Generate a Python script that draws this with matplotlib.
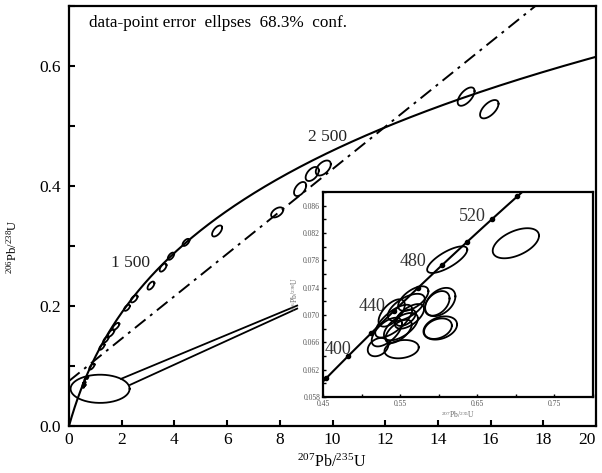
import numpy as np
import matplotlib
matplotlib.use("Agg")
import matplotlib.pyplot as plt
from matplotlib.ticker import MultipleLocator, FixedLocator

plt.rcParams['font.family'] = ['Liberation Serif', 'DejaVu Serif']
plt.rcParams['mathtext.fontset'] = 'custom'
plt.rcParams['mathtext.rm'] = 'Liberation Serif'
plt.rcParams['mathtext.it'] = 'Liberation Serif:italic'

# decay constants (per year)
LAMBDA_238 = 1.55125e-10
LAMBDA_235 = 9.8485e-10

# ---------------- data ----------------
# main-panel error ellipses: centre, half-extent in x and y, correlation
main_x = [15.07, 15.95, 9.65, 9.23, 8.77, 7.90, 5.62, 4.44, 3.87, 3.57, 3.11, 2.47, 2.20, 1.78, 1.60, 1.40, 1.25, 0.87]
main_y = [0.549, 0.528, 0.430, 0.420, 0.395, 0.356, 0.325, 0.306, 0.283, 0.264, 0.234, 0.212, 0.197, 0.166, 0.155, 0.144, 0.132, 0.099]
main_sx = [0.32, 0.35, 0.285, 0.25, 0.23, 0.23, 0.19, 0.13, 0.12, 0.13, 0.13, 0.13, 0.11, 0.13, 0.12, 0.10, 0.10, 0.10]
main_sy = [0.0153, 0.0153, 0.0125, 0.0117, 0.0117, 0.0084, 0.0092, 0.0059, 0.0060, 0.0067, 0.0067, 0.0060, 0.0050, 0.0060, 0.0060, 0.0050, 0.0050, 0.0050]
main_rho = [0.6, 0.6, 0.5, 0.5, 0.5, 0.5, 0.6, 0.6, 0.6, 0.6, 0.6, 0.6, 0.6, 0.7, 0.7, 0.7, 0.7, 0.7]

# inset error ellipses
inset_x = [0.611, 0.700, 0.5214, 0.5519, 0.602, 0.598, 0.602, 0.599, 0.567, 0.558, 0.5417, 0.5327, 0.551, 0.562, 0.539, 0.548, 0.557]
inset_y = [0.0781, 0.0805, 0.0653, 0.0650, 0.0719, 0.0717, 0.0681, 0.0680, 0.0724, 0.0711, 0.0691, 0.0675, 0.0683, 0.0698, 0.0703, 0.0676, 0.0696]
inset_sx = [0.026, 0.030, 0.0134, 0.0222, 0.0196, 0.016, 0.0218, 0.018, 0.0196, 0.024, 0.024, 0.0196, 0.022, 0.019, 0.017, 0.017, 0.013]
inset_sy = [0.00195, 0.0022, 0.00134, 0.00134, 0.00207, 0.0018, 0.0017, 0.0015, 0.0018, 0.0020, 0.0024, 0.0021, 0.0020, 0.0018, 0.0020, 0.0017, 0.0012]
inset_rho = [0.75, 0.5, 0.3, 0.2, 0.4, 0.4, 0.3, 0.3, 0.6, 0.6, 0.7, 0.6, 0.6, 0.6, 0.6, 0.6, 0.5]

# discordia (dash-dot) end points
discordia_x = [0.0, 17.7]
discordia_y = [0.075, 0.700]

# magnifier ellipse and its pointer lines
mag_cx, mag_cy, mag_sx, mag_sy = 1.18, 0.062, 1.12, 0.0235
pointer_upper_x = [1.975, 8.66]
pointer_upper_y = [0.0786, 0.2007]
pointer_lower_x = [2.32, 8.66]
pointer_lower_y = [0.0686, 0.1957]

# age labels
main_age_labels = ["1 500", "2 500"]
main_age_label_x = [2.35, 9.8]
main_age_label_y = [0.272, 0.481]
inset_marker_ages = [380, 400, 420, 440, 460, 480, 500, 520, 540]   # Ma
inset_age_labels = ["400", "440", "480", "520"]
inset_age_label_x = [0.469, 0.513, 0.567, 0.644]
inset_age_label_y = [0.0649, 0.0712, 0.0778, 0.0844]

main_xticks = [0, 2, 4, 6, 8, 10, 12, 14, 16, 18, 20]
main_yticks = [0.0, 0.2, 0.4, 0.6]
inset_xticks = [0.45, 0.55, 0.65, 0.75]
inset_yticks = [0.058, 0.062, 0.066, 0.070, 0.074, 0.078, 0.082, 0.086]


def concordia(age_ma):
    t = np.asarray(age_ma, dtype=float) * 1e6
    return np.exp(LAMBDA_235 * t) - 1, np.exp(LAMBDA_238 * t) - 1


def ellipse_xy(cx, cy, sx, sy, rho, n=120):
    th = np.linspace(0, 2 * np.pi, n)
    x = cx + sx * np.cos(th)
    y = cy + sy * (rho * np.cos(th) + np.sqrt(1 - rho ** 2) * np.sin(th))
    return x, y


fig = plt.figure(figsize=(6.02, 4.73), dpi=100)
ax = fig.add_axes([69 / 602, 47 / 473, 527 / 602, 420 / 473])

LW = 1.5
# concordia
cx, cy = concordia(np.linspace(0, 3300, 600))
ax.plot(cx, cy, color='black', lw=LW, zorder=3)
# discordia
ax.plot(discordia_x, discordia_y, color='black', lw=1.4,
        dashes=(7, 3, 1.5, 3), zorder=3)

for x, y, sx, sy, r in zip(main_x, main_y, main_sx, main_sy, main_rho):
    ex, ey = ellipse_xy(x, y, sx, sy, r)
    ax.plot(ex, ey, color='black', lw=1.3, zorder=4)
for x, y, sx, sy, r in zip(inset_x, inset_y, inset_sx, inset_sy, inset_rho):
    ex, ey = ellipse_xy(x, y, sx, sy, r)
    ax.plot(ex, ey, color='black', lw=1.3, zorder=4)

# magnifier
ex, ey = ellipse_xy(mag_cx, mag_cy, mag_sx, mag_sy, 0.0, 200)
ax.plot(ex, ey, color='black', lw=1.3, zorder=4)
ax.plot(pointer_upper_x, pointer_upper_y, color='black', lw=1.3, zorder=4)
ax.plot(pointer_lower_x, pointer_lower_y, color='black', lw=1.3, zorder=4)

for s, x, y in zip(main_age_labels, main_age_label_x, main_age_label_y):
    ax.text(x, y, s, fontsize=12.5, ha='center', va='center', color='#222222')

ax.text(0.038, 0.96, "data-point error  ellpses  68.3%  conf.", transform=ax.transAxes,
        fontsize=12.3, ha='left', va='center')

ax.set_xlim(0, 20)
ax.set_ylim(0, 0.7)
ax.xaxis.set_major_locator(FixedLocator(main_xticks))
ax.yaxis.set_major_locator(FixedLocator(main_yticks))
ax.yaxis.set_minor_locator(MultipleLocator(0.1))
ax.set_xticklabels([str(v) for v in main_xticks])
ax.set_yticklabels([f"{v:.1f}" for v in main_yticks])
ax.get_xticklabels()[-1].set_horizontalalignment('right')
ax.tick_params(which='both', direction='in', length=4, width=1.5, labelsize=12.5)
ax.tick_params(axis='x', pad=4)
ax.tick_params(axis='y', pad=6)
for sp in ax.spines.values():
    sp.set_linewidth(1.6)

ax.set_xlabel(r"$^{207}$Pb/$^{235}$U", fontsize=11.5)
ax.set_ylabel(r"$^{206}$Pb/$^{238}$U", fontsize=9)
ax.xaxis.set_label_coords(0.499, -0.066)
ax.yaxis.set_label_coords(-0.093, 0.426)

# ---------------- inset ----------------
ins = fig.add_axes([323 / 602, 76 / 473, 270 / 602, 205 / 473])
ix, iy = concordia(np.linspace(350, 570, 300))
ins.plot(ix, iy, color='black', lw=1.5, zorder=3)
mx, my = concordia(inset_marker_ages)
ins.plot(mx, my, 'o', color='black', ms=3, zorder=4)
for x, y, sx, sy, r in zip(inset_x, inset_y, inset_sx, inset_sy, inset_rho):
    ex, ey = ellipse_xy(x, y, sx, sy, r)
    ins.plot(ex, ey, color='black', lw=1.3, zorder=4)
for s, x, y in zip(inset_age_labels, inset_age_label_x, inset_age_label_y):
    ins.text(x, y, s, fontsize=13, ha='center', va='center', color='#333333')

ins.set_xlim(0.45, 0.80)
ins.set_ylim(0.058, 0.088)
ins.xaxis.set_major_locator(FixedLocator(inset_xticks))
ins.xaxis.set_minor_locator(MultipleLocator(0.05))
ins.yaxis.set_major_locator(FixedLocator(inset_yticks))
ins.yaxis.set_minor_locator(MultipleLocator(0.002))
ins.set_xticklabels([f"{v:.2f}" for v in inset_xticks])
ins.set_yticklabels([f"{v:.3f}" for v in inset_yticks])
ins.tick_params(which='both', direction='in', length=2.5, width=1.0, labelsize=5.5,
                labelcolor='#555555', pad=2)
for sp in ins.spines.values():
    sp.set_linewidth(1.6)
ins.set_xlabel(r"$^{207}$Pb/$^{235}$U", fontsize=5.5, color='#666666', labelpad=1)
ins.set_ylabel(r"$^{206}$Pb/$^{238}$U", fontsize=5.5, color='#666666', labelpad=2)

fig.savefig("out.png", dpi=100)
